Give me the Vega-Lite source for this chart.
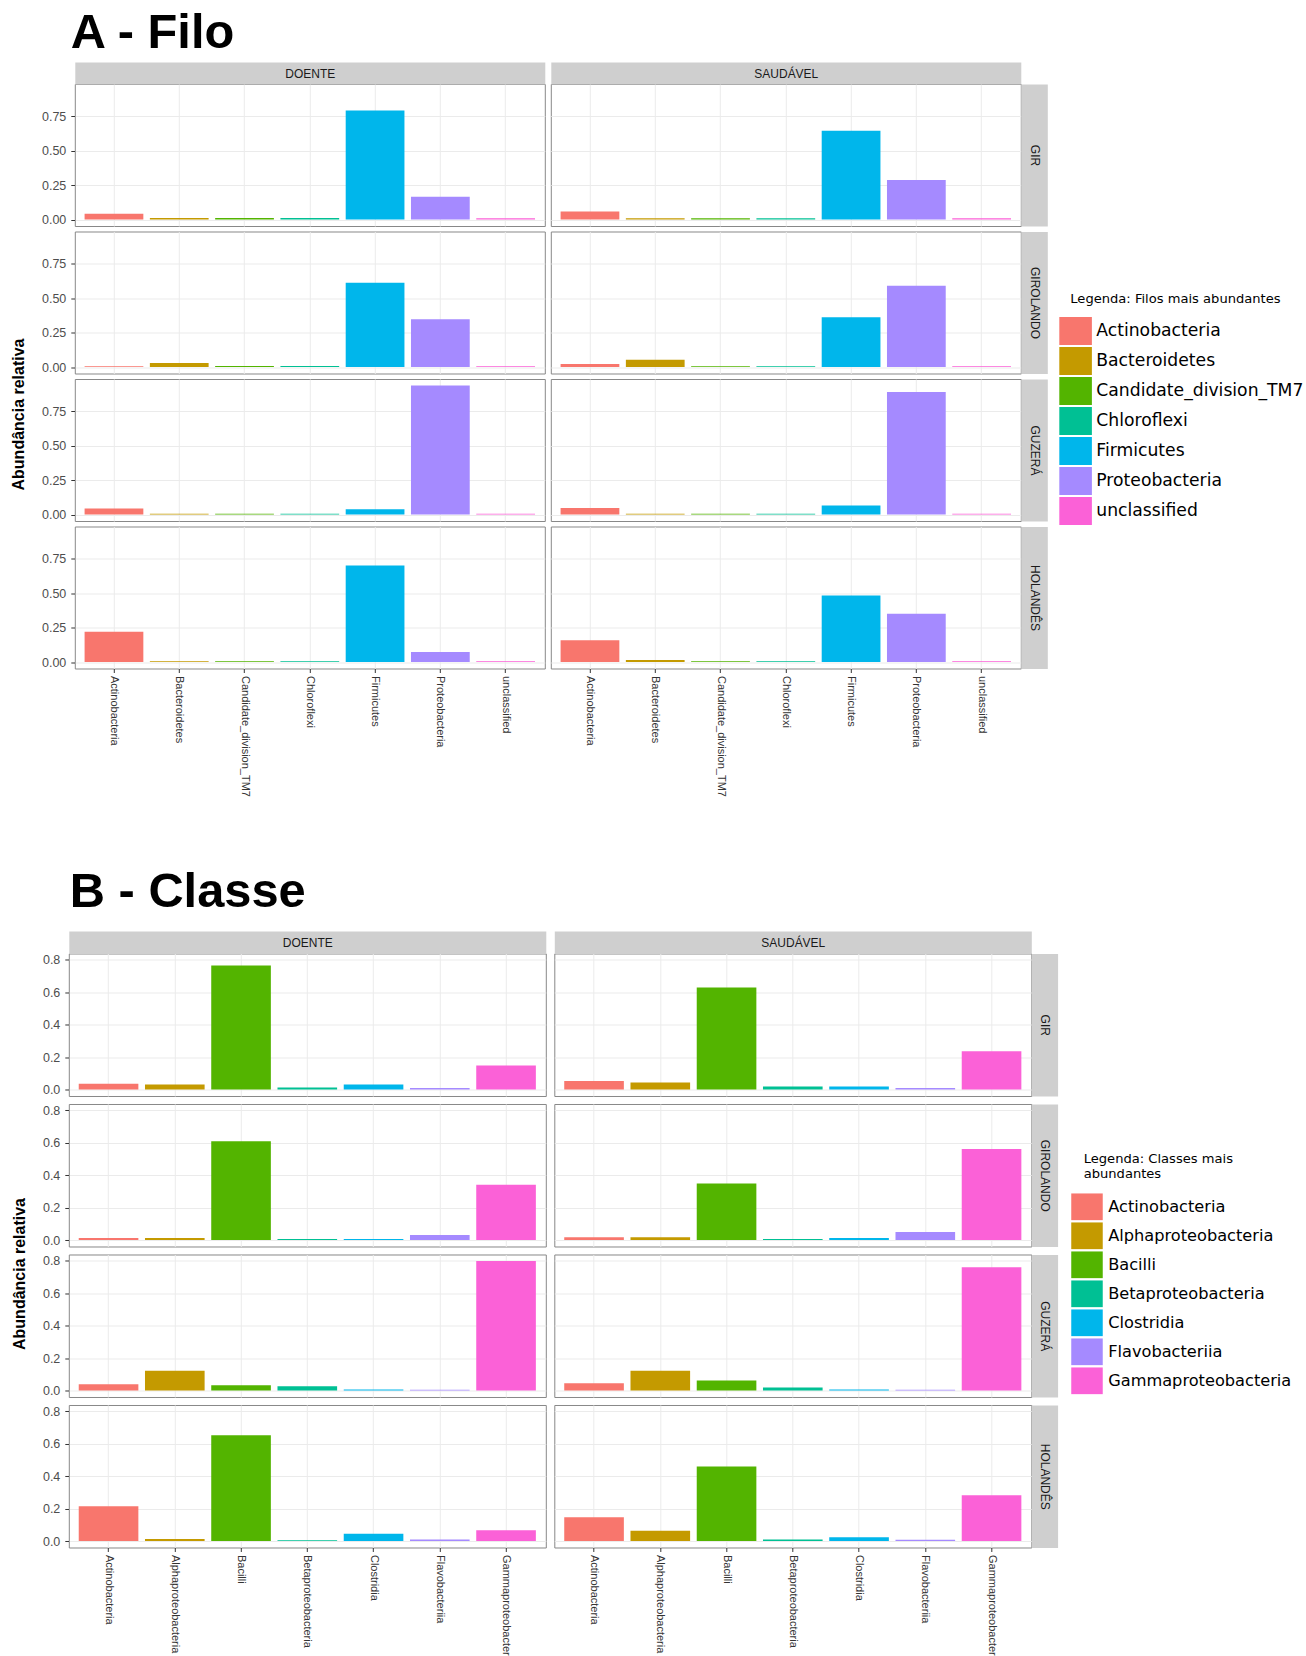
{
  "$schema": "https://vega.github.io/schema/vega-lite/v6.json",
  "background": "white",
  "padding": {"left": 9.8, "top": 9, "right": 5, "bottom": 5},
  "datasets": {
    "filo": [
      {"status": "DOENTE", "raca": "GIR", "filo": "Actinobacteria", "abund": 0.042},
      {"status": "DOENTE", "raca": "GIR", "filo": "Bacteroidetes", "abund": 0.012},
      {"status": "DOENTE", "raca": "GIR", "filo": "Candidate_division_TM7", "abund": 0.012},
      {"status": "DOENTE", "raca": "GIR", "filo": "Chloroflexi", "abund": 0.012},
      {"status": "DOENTE", "raca": "GIR", "filo": "Firmicutes", "abund": 0.79},
      {"status": "DOENTE", "raca": "GIR", "filo": "Proteobacteria", "abund": 0.165},
      {"status": "DOENTE", "raca": "GIR", "filo": "unclassified", "abund": 0.01},
      {"status": "DOENTE", "raca": "GIROLANDO", "filo": "Actinobacteria", "abund": 0.006},
      {"status": "DOENTE", "raca": "GIROLANDO", "filo": "Bacteroidetes", "abund": 0.03},
      {"status": "DOENTE", "raca": "GIROLANDO", "filo": "Candidate_division_TM7", "abund": 0.008},
      {"status": "DOENTE", "raca": "GIROLANDO", "filo": "Chloroflexi", "abund": 0.008},
      {"status": "DOENTE", "raca": "GIROLANDO", "filo": "Firmicutes", "abund": 0.61},
      {"status": "DOENTE", "raca": "GIROLANDO", "filo": "Proteobacteria", "abund": 0.347},
      {"status": "DOENTE", "raca": "GIROLANDO", "filo": "unclassified", "abund": 0.006},
      {"status": "DOENTE", "raca": "GUZERÁ", "filo": "Actinobacteria", "abund": 0.044},
      {"status": "DOENTE", "raca": "GUZERÁ", "filo": "Bacteroidetes", "abund": 0.006},
      {"status": "DOENTE", "raca": "GUZERÁ", "filo": "Candidate_division_TM7", "abund": 0.006},
      {"status": "DOENTE", "raca": "GUZERÁ", "filo": "Chloroflexi", "abund": 0.006},
      {"status": "DOENTE", "raca": "GUZERÁ", "filo": "Firmicutes", "abund": 0.038},
      {"status": "DOENTE", "raca": "GUZERÁ", "filo": "Proteobacteria", "abund": 0.935},
      {"status": "DOENTE", "raca": "GUZERÁ", "filo": "unclassified", "abund": 0.006},
      {"status": "DOENTE", "raca": "HOLANDÊS", "filo": "Actinobacteria", "abund": 0.22},
      {"status": "DOENTE", "raca": "HOLANDÊS", "filo": "Bacteroidetes", "abund": 0.006},
      {"status": "DOENTE", "raca": "HOLANDÊS", "filo": "Candidate_division_TM7", "abund": 0.006},
      {"status": "DOENTE", "raca": "HOLANDÊS", "filo": "Chloroflexi", "abund": 0.006},
      {"status": "DOENTE", "raca": "HOLANDÊS", "filo": "Firmicutes", "abund": 0.70},
      {"status": "DOENTE", "raca": "HOLANDÊS", "filo": "Proteobacteria", "abund": 0.072},
      {"status": "DOENTE", "raca": "HOLANDÊS", "filo": "unclassified", "abund": 0.006},
      {"status": "SAUDÁVEL", "raca": "GIR", "filo": "Actinobacteria", "abund": 0.058},
      {"status": "SAUDÁVEL", "raca": "GIR", "filo": "Bacteroidetes", "abund": 0.01},
      {"status": "SAUDÁVEL", "raca": "GIR", "filo": "Candidate_division_TM7", "abund": 0.01},
      {"status": "SAUDÁVEL", "raca": "GIR", "filo": "Chloroflexi", "abund": 0.01},
      {"status": "SAUDÁVEL", "raca": "GIR", "filo": "Firmicutes", "abund": 0.644},
      {"status": "SAUDÁVEL", "raca": "GIR", "filo": "Proteobacteria", "abund": 0.286},
      {"status": "SAUDÁVEL", "raca": "GIR", "filo": "unclassified", "abund": 0.01},
      {"status": "SAUDÁVEL", "raca": "GIROLANDO", "filo": "Actinobacteria", "abund": 0.022},
      {"status": "SAUDÁVEL", "raca": "GIROLANDO", "filo": "Bacteroidetes", "abund": 0.053},
      {"status": "SAUDÁVEL", "raca": "GIROLANDO", "filo": "Candidate_division_TM7", "abund": 0.006},
      {"status": "SAUDÁVEL", "raca": "GIROLANDO", "filo": "Chloroflexi", "abund": 0.006},
      {"status": "SAUDÁVEL", "raca": "GIROLANDO", "filo": "Firmicutes", "abund": 0.36},
      {"status": "SAUDÁVEL", "raca": "GIROLANDO", "filo": "Proteobacteria", "abund": 0.588},
      {"status": "SAUDÁVEL", "raca": "GIROLANDO", "filo": "unclassified", "abund": 0.006},
      {"status": "SAUDÁVEL", "raca": "GUZERÁ", "filo": "Actinobacteria", "abund": 0.047},
      {"status": "SAUDÁVEL", "raca": "GUZERÁ", "filo": "Bacteroidetes", "abund": 0.006},
      {"status": "SAUDÁVEL", "raca": "GUZERÁ", "filo": "Candidate_division_TM7", "abund": 0.006},
      {"status": "SAUDÁVEL", "raca": "GUZERÁ", "filo": "Chloroflexi", "abund": 0.006},
      {"status": "SAUDÁVEL", "raca": "GUZERÁ", "filo": "Firmicutes", "abund": 0.066},
      {"status": "SAUDÁVEL", "raca": "GUZERÁ", "filo": "Proteobacteria", "abund": 0.888},
      {"status": "SAUDÁVEL", "raca": "GUZERÁ", "filo": "unclassified", "abund": 0.006},
      {"status": "SAUDÁVEL", "raca": "HOLANDÊS", "filo": "Actinobacteria", "abund": 0.157},
      {"status": "SAUDÁVEL", "raca": "HOLANDÊS", "filo": "Bacteroidetes", "abund": 0.014},
      {"status": "SAUDÁVEL", "raca": "HOLANDÊS", "filo": "Candidate_division_TM7", "abund": 0.006},
      {"status": "SAUDÁVEL", "raca": "HOLANDÊS", "filo": "Chloroflexi", "abund": 0.006},
      {"status": "SAUDÁVEL", "raca": "HOLANDÊS", "filo": "Firmicutes", "abund": 0.482},
      {"status": "SAUDÁVEL", "raca": "HOLANDÊS", "filo": "Proteobacteria", "abund": 0.35},
      {"status": "SAUDÁVEL", "raca": "HOLANDÊS", "filo": "unclassified", "abund": 0.006}
    ],
    "classe": [
      {"status": "DOENTE", "raca": "GIR", "classe": "Actinobacteria", "abund": 0.036},
      {"status": "DOENTE", "raca": "GIR", "classe": "Alphaproteobacteria", "abund": 0.031},
      {"status": "DOENTE", "raca": "GIR", "classe": "Bacilli", "abund": 0.766},
      {"status": "DOENTE", "raca": "GIR", "classe": "Betaproteobacteria", "abund": 0.012},
      {"status": "DOENTE", "raca": "GIR", "classe": "Clostridia", "abund": 0.031},
      {"status": "DOENTE", "raca": "GIR", "classe": "Flavobacteriia", "abund": 0.01},
      {"status": "DOENTE", "raca": "GIR", "classe": "Gammaproteobacteria", "abund": 0.148},
      {"status": "DOENTE", "raca": "GIROLANDO", "classe": "Actinobacteria", "abund": 0.012},
      {"status": "DOENTE", "raca": "GIROLANDO", "classe": "Alphaproteobacteria", "abund": 0.012},
      {"status": "DOENTE", "raca": "GIROLANDO", "classe": "Bacilli", "abund": 0.61},
      {"status": "DOENTE", "raca": "GIROLANDO", "classe": "Betaproteobacteria", "abund": 0.006},
      {"status": "DOENTE", "raca": "GIROLANDO", "classe": "Clostridia", "abund": 0.006},
      {"status": "DOENTE", "raca": "GIROLANDO", "classe": "Flavobacteriia", "abund": 0.031},
      {"status": "DOENTE", "raca": "GIROLANDO", "classe": "Gammaproteobacteria", "abund": 0.341},
      {"status": "DOENTE", "raca": "GUZERÁ", "classe": "Actinobacteria", "abund": 0.038},
      {"status": "DOENTE", "raca": "GUZERÁ", "classe": "Alphaproteobacteria", "abund": 0.122},
      {"status": "DOENTE", "raca": "GUZERÁ", "classe": "Bacilli", "abund": 0.033},
      {"status": "DOENTE", "raca": "GUZERÁ", "classe": "Betaproteobacteria", "abund": 0.026},
      {"status": "DOENTE", "raca": "GUZERÁ", "classe": "Clostridia", "abund": 0.006},
      {"status": "DOENTE", "raca": "GUZERÁ", "classe": "Flavobacteriia", "abund": 0.004},
      {"status": "DOENTE", "raca": "GUZERÁ", "classe": "Gammaproteobacteria", "abund": 0.80},
      {"status": "DOENTE", "raca": "HOLANDÊS", "classe": "Actinobacteria", "abund": 0.214},
      {"status": "DOENTE", "raca": "HOLANDÊS", "classe": "Alphaproteobacteria", "abund": 0.012},
      {"status": "DOENTE", "raca": "HOLANDÊS", "classe": "Bacilli", "abund": 0.653},
      {"status": "DOENTE", "raca": "HOLANDÊS", "classe": "Betaproteobacteria", "abund": 0.004},
      {"status": "DOENTE", "raca": "HOLANDÊS", "classe": "Clostridia", "abund": 0.045},
      {"status": "DOENTE", "raca": "HOLANDÊS", "classe": "Flavobacteriia", "abund": 0.01},
      {"status": "DOENTE", "raca": "HOLANDÊS", "classe": "Gammaproteobacteria", "abund": 0.067},
      {"status": "SAUDÁVEL", "raca": "GIR", "classe": "Actinobacteria", "abund": 0.053},
      {"status": "SAUDÁVEL", "raca": "GIR", "classe": "Alphaproteobacteria", "abund": 0.043},
      {"status": "SAUDÁVEL", "raca": "GIR", "classe": "Bacilli", "abund": 0.63},
      {"status": "SAUDÁVEL", "raca": "GIR", "classe": "Betaproteobacteria", "abund": 0.019},
      {"status": "SAUDÁVEL", "raca": "GIR", "classe": "Clostridia", "abund": 0.019},
      {"status": "SAUDÁVEL", "raca": "GIR", "classe": "Flavobacteriia", "abund": 0.01},
      {"status": "SAUDÁVEL", "raca": "GIR", "classe": "Gammaproteobacteria", "abund": 0.236},
      {"status": "SAUDÁVEL", "raca": "GIROLANDO", "classe": "Actinobacteria", "abund": 0.017},
      {"status": "SAUDÁVEL", "raca": "GIROLANDO", "classe": "Alphaproteobacteria", "abund": 0.017},
      {"status": "SAUDÁVEL", "raca": "GIROLANDO", "classe": "Bacilli", "abund": 0.349},
      {"status": "SAUDÁVEL", "raca": "GIROLANDO", "classe": "Betaproteobacteria", "abund": 0.006},
      {"status": "SAUDÁVEL", "raca": "GIROLANDO", "classe": "Clostridia", "abund": 0.012},
      {"status": "SAUDÁVEL", "raca": "GIROLANDO", "classe": "Flavobacteriia", "abund": 0.05},
      {"status": "SAUDÁVEL", "raca": "GIROLANDO", "classe": "Gammaproteobacteria", "abund": 0.5625},
      {"status": "SAUDÁVEL", "raca": "GUZERÁ", "classe": "Actinobacteria", "abund": 0.045},
      {"status": "SAUDÁVEL", "raca": "GUZERÁ", "classe": "Alphaproteobacteria", "abund": 0.122},
      {"status": "SAUDÁVEL", "raca": "GUZERÁ", "classe": "Bacilli", "abund": 0.062},
      {"status": "SAUDÁVEL", "raca": "GUZERÁ", "classe": "Betaproteobacteria", "abund": 0.019},
      {"status": "SAUDÁVEL", "raca": "GUZERÁ", "classe": "Clostridia", "abund": 0.006},
      {"status": "SAUDÁVEL", "raca": "GUZERÁ", "classe": "Flavobacteriia", "abund": 0.004},
      {"status": "SAUDÁVEL", "raca": "GUZERÁ", "classe": "Gammaproteobacteria", "abund": 0.761},
      {"status": "SAUDÁVEL", "raca": "HOLANDÊS", "classe": "Actinobacteria", "abund": 0.147},
      {"status": "SAUDÁVEL", "raca": "HOLANDÊS", "classe": "Alphaproteobacteria", "abund": 0.064},
      {"status": "SAUDÁVEL", "raca": "HOLANDÊS", "classe": "Bacilli", "abund": 0.46},
      {"status": "SAUDÁVEL", "raca": "HOLANDÊS", "classe": "Betaproteobacteria", "abund": 0.01},
      {"status": "SAUDÁVEL", "raca": "HOLANDÊS", "classe": "Clostridia", "abund": 0.024},
      {"status": "SAUDÁVEL", "raca": "HOLANDÊS", "classe": "Flavobacteriia", "abund": 0.008},
      {"status": "SAUDÁVEL", "raca": "HOLANDÊS", "classe": "Gammaproteobacteria", "abund": 0.283}
    ]
  },
  "columns": 1,
  "align": "none",
  "spacing": 69.5,
  "concat": [
    {
      "bounds": "flush",
      "spacing": 0,
      "hconcat": [
        {
          "width": 5.5, "height": 1,
          "data": {"values": [{"k": 0}]},
          "mark": {"type": "point", "opacity": 0},
          "encoding": {},
          "view": {"stroke": null, "fill": null}
        },
        {
          "title": {"text": "A - Filo", "anchor": "start", "frame": "group", "font": "Liberation Sans", "fontSize": 48.8, "fontWeight": "bold", "color": "black", "offset": 8.7, "dx": -4},
          "columns": 2,
          "bounds": "flush",
          "spacing": {"row": 5.5, "column": 6},
          "concat": [
            {
              "width": 470, "height": 142,
              "data": {"name": "filo"},
              "transform": [{"filter": "datum.status == 'DOENTE' && datum.raca == 'GIR'"}],
              "mark": "bar",
              "encoding": {
                "x": {"field": "filo", "type": "nominal", "scale": {"paddingInner": 0.1, "paddingOuter": 0.15},
                      "axis": {"orient": "top", "title": "DOENTE", "labels": false, "ticks": false, "domain": true, "domainColor": "#CFCFCF", "domainWidth": 22, "offset": 11, "titleY": 0, "titleBaseline": "middle", "grid": true}},
                "y": {"field": "abund", "type": "quantitative", "scale": {"domain": [-0.0468, 0.9818], "nice": false, "zero": false},
                      "axis": {"title": "Abundância relativa", "values": [0, 0.25, 0.5, 0.75], "format": ".2f", "ticks": true, "labelPadding": 5, "grid": true,
                               "titleX": -56, "titleY": 330, "titleAngle": 270, "titleAlign": "center", "titleBaseline": "middle", "titleFontSize": 16, "titleFontWeight": "bold", "titleColor": "black"}},
                "y2": {"datum": 0},
                "color": {"field": "filo", "type": "nominal",
                          "legend": {"title": "Legenda: Filos mais abundantes", "orient": "none", "legendX": 1001.5, "legendY": 209,
                                     "symbolType": "M-1.164,-1H1.164V1H-1.164Z", "symbolSize": 784, "symbolOffset": -8.7, "symbolStrokeWidth": 0,
                                     "labelOffset": 6.7, "labelFont": "DejaVu Sans", "labelFontSize": 17.2, "labelColor": "black", "labelLimit": 400,
                                     "titleFont": "DejaVu Sans", "titleFontSize": 13.1, "titleFontWeight": "normal", "titleColor": "black", "titlePadding": 11, "titleLimit": 400}}
              }
            },
            {
              "width": 470, "height": 142,
              "data": {"name": "filo"},
              "transform": [{"filter": "datum.status == 'SAUDÁVEL' && datum.raca == 'GIR'"}],
              "mark": "bar",
              "encoding": {
                "x": {"field": "filo", "type": "nominal", "scale": {"paddingInner": 0.1, "paddingOuter": 0.15},
                      "axis": {"orient": "top", "title": "SAUDÁVEL", "labels": false, "ticks": false, "domain": true, "domainColor": "#CFCFCF", "domainWidth": 22, "offset": 11, "titleY": 0, "titleBaseline": "middle", "grid": true}},
                "y": {"field": "abund", "type": "quantitative", "scale": {"domain": [-0.0468, 0.9818], "nice": false, "zero": false},
                      "axis": {"orient": "right", "title": "GIR", "values": [0, 0.25, 0.5, 0.75], "labels": false, "ticks": false, "domain": true, "domainColor": "#CFCFCF", "domainWidth": 26.5, "offset": 13.25, "titleX": 0, "titleAngle": 90, "titleAlign": "center", "titleBaseline": "middle", "grid": true}},
                "y2": {"datum": 0},
                "color": {"field": "filo", "type": "nominal"}
              }
            },
            {
              "width": 470, "height": 142,
              "data": {"name": "filo"},
              "transform": [{"filter": "datum.status == 'DOENTE' && datum.raca == 'GIROLANDO'"}],
              "mark": "bar",
              "encoding": {
                "x": {"field": "filo", "type": "nominal", "scale": {"paddingInner": 0.1, "paddingOuter": 0.15},
                      "axis": {"title": null, "labels": false, "ticks": false, "grid": true}},
                "y": {"field": "abund", "type": "quantitative", "scale": {"domain": [-0.0468, 0.9818], "nice": false, "zero": false},
                      "axis": {"title": null, "values": [0, 0.25, 0.5, 0.75], "format": ".2f", "ticks": true, "labelPadding": 5, "grid": true}},
                "y2": {"datum": 0},
                "color": {"field": "filo", "type": "nominal"}
              }
            },
            {
              "width": 470, "height": 142,
              "data": {"name": "filo"},
              "transform": [{"filter": "datum.status == 'SAUDÁVEL' && datum.raca == 'GIROLANDO'"}],
              "mark": "bar",
              "encoding": {
                "x": {"field": "filo", "type": "nominal", "scale": {"paddingInner": 0.1, "paddingOuter": 0.15},
                      "axis": {"title": null, "labels": false, "ticks": false, "grid": true}},
                "y": {"field": "abund", "type": "quantitative", "scale": {"domain": [-0.0468, 0.9818], "nice": false, "zero": false},
                      "axis": {"orient": "right", "title": "GIROLANDO", "values": [0, 0.25, 0.5, 0.75], "labels": false, "ticks": false, "domain": true, "domainColor": "#CFCFCF", "domainWidth": 26.5, "offset": 13.25, "titleX": 0, "titleAngle": 90, "titleAlign": "center", "titleBaseline": "middle", "grid": true}},
                "y2": {"datum": 0},
                "color": {"field": "filo", "type": "nominal"}
              }
            },
            {
              "width": 470, "height": 142,
              "data": {"name": "filo"},
              "transform": [{"filter": "datum.status == 'DOENTE' && datum.raca == 'GUZERÁ'"}],
              "mark": "bar",
              "encoding": {
                "x": {"field": "filo", "type": "nominal", "scale": {"paddingInner": 0.1, "paddingOuter": 0.15},
                      "axis": {"title": null, "labels": false, "ticks": false, "grid": true}},
                "y": {"field": "abund", "type": "quantitative", "scale": {"domain": [-0.0468, 0.9818], "nice": false, "zero": false},
                      "axis": {"title": null, "values": [0, 0.25, 0.5, 0.75], "format": ".2f", "ticks": true, "labelPadding": 5, "grid": true}},
                "y2": {"datum": 0},
                "color": {"field": "filo", "type": "nominal"}
              }
            },
            {
              "width": 470, "height": 142,
              "data": {"name": "filo"},
              "transform": [{"filter": "datum.status == 'SAUDÁVEL' && datum.raca == 'GUZERÁ'"}],
              "mark": "bar",
              "encoding": {
                "x": {"field": "filo", "type": "nominal", "scale": {"paddingInner": 0.1, "paddingOuter": 0.15},
                      "axis": {"title": null, "labels": false, "ticks": false, "grid": true}},
                "y": {"field": "abund", "type": "quantitative", "scale": {"domain": [-0.0468, 0.9818], "nice": false, "zero": false},
                      "axis": {"orient": "right", "title": "GUZERÁ", "values": [0, 0.25, 0.5, 0.75], "labels": false, "ticks": false, "domain": true, "domainColor": "#CFCFCF", "domainWidth": 26.5, "offset": 13.25, "titleX": 0, "titleAngle": 90, "titleAlign": "center", "titleBaseline": "middle", "grid": true}},
                "y2": {"datum": 0},
                "color": {"field": "filo", "type": "nominal"}
              }
            },
            {
              "width": 470, "height": 142,
              "data": {"name": "filo"},
              "transform": [{"filter": "datum.status == 'DOENTE' && datum.raca == 'HOLANDÊS'"}],
              "mark": "bar",
              "encoding": {
                "x": {"field": "filo", "type": "nominal", "scale": {"paddingInner": 0.1, "paddingOuter": 0.15},
                      "axis": {"title": null, "labelAngle": 90, "labelFontSize": 11, "labelColor": "#333333", "labelPadding": 3, "ticks": true, "grid": true}},
                "y": {"field": "abund", "type": "quantitative", "scale": {"domain": [-0.0468, 0.9818], "nice": false, "zero": false},
                      "axis": {"title": null, "values": [0, 0.25, 0.5, 0.75], "format": ".2f", "ticks": true, "labelPadding": 5, "grid": true}},
                "y2": {"datum": 0},
                "color": {"field": "filo", "type": "nominal"}
              }
            },
            {
              "width": 470, "height": 142,
              "data": {"name": "filo"},
              "transform": [{"filter": "datum.status == 'SAUDÁVEL' && datum.raca == 'HOLANDÊS'"}],
              "mark": "bar",
              "encoding": {
                "x": {"field": "filo", "type": "nominal", "scale": {"paddingInner": 0.1, "paddingOuter": 0.15},
                      "axis": {"title": null, "labelAngle": 90, "labelFontSize": 11, "labelColor": "#333333", "labelPadding": 3, "ticks": true, "grid": true}},
                "y": {"field": "abund", "type": "quantitative", "scale": {"domain": [-0.0468, 0.9818], "nice": false, "zero": false},
                      "axis": {"orient": "right", "title": "HOLANDÊS", "values": [0, 0.25, 0.5, 0.75], "labels": false, "ticks": false, "domain": true, "domainColor": "#CFCFCF", "domainWidth": 26.5, "offset": 13.25, "titleX": 0, "titleAngle": 90, "titleAlign": "center", "titleBaseline": "middle", "grid": true}},
                "y2": {"datum": 0},
                "color": {"field": "filo", "type": "nominal"}
              }
            }
          ]
        }
      ]
    },
    {
      "title": {"text": "B - Classe", "anchor": "start", "frame": "group", "font": "Liberation Sans", "fontSize": 48.8, "fontWeight": "bold", "color": "black", "offset": 18.7, "dx": 1},
      "columns": 2,
      "bounds": "flush",
      "spacing": {"row": 7.5, "column": 8.5},
      "concat": [
        {
          "width": 477, "height": 142.5,
          "data": {"name": "classe"},
          "transform": [{"filter": "datum.status == 'DOENTE' && datum.raca == 'GIR'"}],
          "mark": "bar",
          "encoding": {
            "x": {"field": "classe", "type": "nominal", "scale": {"paddingInner": 0.1, "paddingOuter": 0.15},
                  "axis": {"orient": "top", "title": "DOENTE", "labels": false, "ticks": false, "domain": true, "domainColor": "#CFCFCF", "domainWidth": 22.5, "offset": 11.25, "titleY": 0, "titleBaseline": "middle", "grid": true}},
            "y": {"field": "abund", "type": "quantitative", "scale": {"domain": [-0.04, 0.84], "nice": false, "zero": false},
                  "axis": {"title": "Abundância relativa", "values": [0, 0.2, 0.4, 0.6, 0.8], "format": ".1f", "ticks": true, "labelPadding": 5, "grid": true,
                           "titleX": -49.7, "titleY": 320, "titleAngle": 270, "titleAlign": "center", "titleBaseline": "middle", "titleFontSize": 16, "titleFontWeight": "bold", "titleColor": "black"}},
            "y2": {"datum": 0},
            "color": {"field": "classe", "type": "nominal",
                      "legend": {"title": ["Legenda: Classes mais", "abundantes"], "orient": "none", "legendX": 1014.9, "legendY": 199.7,
                                 "symbolType": "M-1.1667,-0.989H1.1667V0.989H-1.1667Z", "symbolSize": 729, "symbolOffset": -10.2, "symbolStrokeWidth": 0,
                                 "labelOffset": 7.7, "labelFont": "DejaVu Sans", "labelFontSize": 16.2, "labelColor": "black", "labelLimit": 400,
                                 "titleFont": "DejaVu Sans", "titleFontSize": 13.1, "titleFontWeight": "normal", "titleColor": "black", "titlePadding": 12, "titleLimit": 400, "titleLineHeight": 15}}
          }
        },
        {
          "width": 477, "height": 142.5,
          "data": {"name": "classe"},
          "transform": [{"filter": "datum.status == 'SAUDÁVEL' && datum.raca == 'GIR'"}],
          "mark": "bar",
          "encoding": {
            "x": {"field": "classe", "type": "nominal", "scale": {"paddingInner": 0.1, "paddingOuter": 0.15},
                  "axis": {"orient": "top", "title": "SAUDÁVEL", "labels": false, "ticks": false, "domain": true, "domainColor": "#CFCFCF", "domainWidth": 22.5, "offset": 11.25, "titleY": 0, "titleBaseline": "middle", "grid": true}},
            "y": {"field": "abund", "type": "quantitative", "scale": {"domain": [-0.04, 0.84], "nice": false, "zero": false},
                  "axis": {"orient": "right", "title": "GIR", "values": [0, 0.2, 0.4, 0.6, 0.8], "labels": false, "ticks": false, "domain": true, "domainColor": "#CFCFCF", "domainWidth": 26.3, "offset": 13.15, "titleX": 0, "titleAngle": 90, "titleAlign": "center", "titleBaseline": "middle", "grid": true}},
            "y2": {"datum": 0},
            "color": {"field": "classe", "type": "nominal"}
          }
        },
        {
          "width": 477, "height": 142.5,
          "data": {"name": "classe"},
          "transform": [{"filter": "datum.status == 'DOENTE' && datum.raca == 'GIROLANDO'"}],
          "mark": "bar",
          "encoding": {
            "x": {"field": "classe", "type": "nominal", "scale": {"paddingInner": 0.1, "paddingOuter": 0.15},
                  "axis": {"title": null, "labels": false, "ticks": false, "grid": true}},
            "y": {"field": "abund", "type": "quantitative", "scale": {"domain": [-0.04, 0.84], "nice": false, "zero": false},
                  "axis": {"title": null, "values": [0, 0.2, 0.4, 0.6, 0.8], "format": ".1f", "ticks": true, "labelPadding": 5, "grid": true}},
            "y2": {"datum": 0},
            "color": {"field": "classe", "type": "nominal"}
          }
        },
        {
          "width": 477, "height": 142.5,
          "data": {"name": "classe"},
          "transform": [{"filter": "datum.status == 'SAUDÁVEL' && datum.raca == 'GIROLANDO'"}],
          "mark": "bar",
          "encoding": {
            "x": {"field": "classe", "type": "nominal", "scale": {"paddingInner": 0.1, "paddingOuter": 0.15},
                  "axis": {"title": null, "labels": false, "ticks": false, "grid": true}},
            "y": {"field": "abund", "type": "quantitative", "scale": {"domain": [-0.04, 0.84], "nice": false, "zero": false},
                  "axis": {"orient": "right", "title": "GIROLANDO", "values": [0, 0.2, 0.4, 0.6, 0.8], "labels": false, "ticks": false, "domain": true, "domainColor": "#CFCFCF", "domainWidth": 26.3, "offset": 13.15, "titleX": 0, "titleAngle": 90, "titleAlign": "center", "titleBaseline": "middle", "grid": true}},
            "y2": {"datum": 0},
            "color": {"field": "classe", "type": "nominal"}
          }
        },
        {
          "width": 477, "height": 142.5,
          "data": {"name": "classe"},
          "transform": [{"filter": "datum.status == 'DOENTE' && datum.raca == 'GUZERÁ'"}],
          "mark": "bar",
          "encoding": {
            "x": {"field": "classe", "type": "nominal", "scale": {"paddingInner": 0.1, "paddingOuter": 0.15},
                  "axis": {"title": null, "labels": false, "ticks": false, "grid": true}},
            "y": {"field": "abund", "type": "quantitative", "scale": {"domain": [-0.04, 0.84], "nice": false, "zero": false},
                  "axis": {"title": null, "values": [0, 0.2, 0.4, 0.6, 0.8], "format": ".1f", "ticks": true, "labelPadding": 5, "grid": true}},
            "y2": {"datum": 0},
            "color": {"field": "classe", "type": "nominal"}
          }
        },
        {
          "width": 477, "height": 142.5,
          "data": {"name": "classe"},
          "transform": [{"filter": "datum.status == 'SAUDÁVEL' && datum.raca == 'GUZERÁ'"}],
          "mark": "bar",
          "encoding": {
            "x": {"field": "classe", "type": "nominal", "scale": {"paddingInner": 0.1, "paddingOuter": 0.15},
                  "axis": {"title": null, "labels": false, "ticks": false, "grid": true}},
            "y": {"field": "abund", "type": "quantitative", "scale": {"domain": [-0.04, 0.84], "nice": false, "zero": false},
                  "axis": {"orient": "right", "title": "GUZERÁ", "values": [0, 0.2, 0.4, 0.6, 0.8], "labels": false, "ticks": false, "domain": true, "domainColor": "#CFCFCF", "domainWidth": 26.3, "offset": 13.15, "titleX": 0, "titleAngle": 90, "titleAlign": "center", "titleBaseline": "middle", "grid": true}},
            "y2": {"datum": 0},
            "color": {"field": "classe", "type": "nominal"}
          }
        },
        {
          "width": 477, "height": 142.5,
          "data": {"name": "classe"},
          "transform": [{"filter": "datum.status == 'DOENTE' && datum.raca == 'HOLANDÊS'"}],
          "mark": "bar",
          "encoding": {
            "x": {"field": "classe", "type": "nominal", "scale": {"paddingInner": 0.1, "paddingOuter": 0.15},
                  "axis": {"title": null, "labelAngle": 90, "labelFontSize": 11, "labelColor": "#333333", "labelPadding": 3, "ticks": true, "grid": true}},
            "y": {"field": "abund", "type": "quantitative", "scale": {"domain": [-0.04, 0.84], "nice": false, "zero": false},
                  "axis": {"title": null, "values": [0, 0.2, 0.4, 0.6, 0.8], "format": ".1f", "ticks": true, "labelPadding": 5, "grid": true}},
            "y2": {"datum": 0},
            "color": {"field": "classe", "type": "nominal"}
          }
        },
        {
          "width": 477, "height": 142.5,
          "data": {"name": "classe"},
          "transform": [{"filter": "datum.status == 'SAUDÁVEL' && datum.raca == 'HOLANDÊS'"}],
          "mark": "bar",
          "encoding": {
            "x": {"field": "classe", "type": "nominal", "scale": {"paddingInner": 0.1, "paddingOuter": 0.15},
                  "axis": {"title": null, "labelAngle": 90, "labelFontSize": 11, "labelColor": "#333333", "labelPadding": 3, "ticks": true, "grid": true}},
            "y": {"field": "abund", "type": "quantitative", "scale": {"domain": [-0.04, 0.84], "nice": false, "zero": false},
                  "axis": {"orient": "right", "title": "HOLANDÊS", "values": [0, 0.2, 0.4, 0.6, 0.8], "labels": false, "ticks": false, "domain": true, "domainColor": "#CFCFCF", "domainWidth": 26.3, "offset": 13.15, "titleX": 0, "titleAngle": 90, "titleAlign": "center", "titleBaseline": "middle", "grid": true}},
            "y2": {"datum": 0},
            "color": {"field": "classe", "type": "nominal"}
          }
        }
      ]
    }
  ],
  "resolve": {"scale": {"color": "independent"}},
  "config": {
    "font": "Liberation Sans",
    "view": {"stroke": "#888888", "strokeWidth": 1, "fill": "white"},
    "axis": {
      "labelFont": "Liberation Sans", "labelFontSize": 12.5, "labelColor": "#4D4D4D",
      "tickColor": "#333333", "tickSize": 4, "tickWidth": 1,
      "gridColor": "#EBEBEB", "gridWidth": 1, "domain": false,
      "titleFont": "Liberation Sans", "titleFontSize": 12, "titleFontWeight": "normal", "titleColor": "#1A1A1A"
    },
    "range": {"category": ["#F8766D", "#C49A00", "#53B400", "#00C094", "#00B6EB", "#A58AFF", "#FB61D7"]}
  }
}
